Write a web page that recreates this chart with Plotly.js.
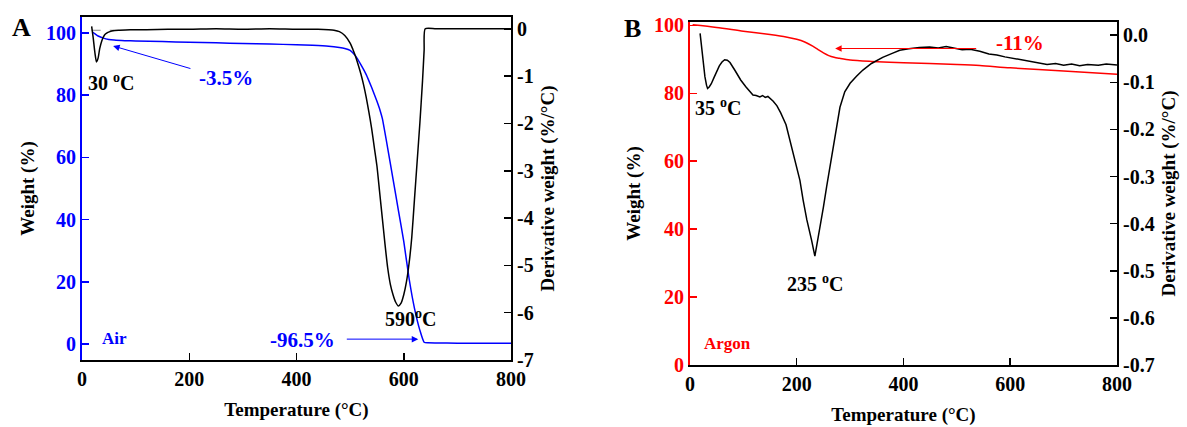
<!DOCTYPE html>
<html>
<head>
<meta charset="utf-8">
<script src="https://cdn.plot.ly/plotly-3.0.1.min.js"></script>
<style>html,body{margin:0;padding:0;background:#fff;}#chart{width:1187px;height:427px;}</style>
</head>
<body>
<div id="chart"></div>
<script>
// ---------- Panel A (Air) ----------
const tempA_weight = [20, 25, 30, 40, 50, 60, 80, 100, 150, 200, 250, 300, 350, 400, 430, 460, 480, 490, 500, 510, 520, 530, 540, 550, 556, 560, 570, 580, 590, 600, 610, 620, 630, 638, 645, 660, 700, 750, 800];
const weightA = [100.2, 99.6, 99.0, 98.3, 97.9, 97.7, 97.5, 97.4, 97.2, 97.0, 96.8, 96.6, 96.4, 96.2, 96.0, 95.7, 95.3, 95.0, 94.4, 92.6, 89.8, 86.6, 82.5, 78.0, 75.0, 72.5, 63.0, 53.0, 43.0, 33.0, 21.0, 11.5, 4.5, 0.6, 0.4, 0.35, 0.3, 0.3, 0.3];

const tempA_deriv = [18, 21, 24, 27, 30, 33, 37, 42, 46, 52, 58, 70, 90, 120, 160, 200, 250, 300, 350, 400, 440, 460, 470, 480, 490, 500, 505, 510, 515, 520, 525, 530, 535, 540, 545, 550, 555, 560, 565, 570, 575, 580, 585, 590, 595, 600, 605, 610, 615, 620, 625, 630, 635, 638, 640, 660, 700, 750, 800];
const derivA = [0.05, -0.2, -0.5, -0.7, -0.62, -0.42, -0.25, -0.13, -0.09, -0.06, -0.04, -0.03, -0.02, -0.02, -0.01, -0.01, 0.0, -0.01, 0.0, -0.01, -0.01, -0.02, -0.03, -0.06, -0.14, -0.3, -0.43, -0.58, -0.76, -0.95, -1.18, -1.45, -1.76, -2.1, -2.5, -2.9, -3.45, -4.0, -4.55, -5.05, -5.4, -5.62, -5.78, -5.86, -5.8, -5.62, -5.35, -4.95, -4.4, -3.6, -2.8, -2.0, -1.1, -0.45, 0.0, 0.0, 0.0, 0.0, 0.0];

const baseA_T = [18, 60];
const baseA_D = [-0.03, -0.03];

// ---------- Panel B (Argon) ----------
const tempB_weight = [5, 50, 100, 150, 180, 200, 215, 230, 240, 250, 260, 270, 280, 300, 340, 400, 500, 543, 600, 700, 800];
const weightB = [100.2, 99.4, 98.3, 97.3, 96.6, 95.9, 95.1, 93.9, 92.9, 91.9, 91.1, 90.6, 90.3, 89.8, 89.4, 89.0, 88.5, 88.2, 87.5, 86.6, 85.6];

const tempB_deriv = [19, 22, 25, 28, 31, 33, 36, 40, 45, 50, 55, 60, 65, 70, 75, 85, 95, 105, 112, 118, 124, 131, 136, 141, 146, 150, 156, 163, 170, 180, 187, 196, 206, 212, 219, 228, 234, 240, 246, 250, 256, 262, 270, 281, 290, 300, 312, 324, 340, 361, 380, 393, 410, 430, 449, 465, 480, 495, 510, 525, 543, 560, 575, 590, 605, 620, 640, 655, 669, 685, 700, 715, 730, 745, 765, 780, 800];
const derivB = [0.004, -0.03, -0.06, -0.088, -0.106, -0.113, -0.11, -0.103, -0.09, -0.077, -0.065, -0.057, -0.052, -0.053, -0.058, -0.076, -0.095, -0.11, -0.12, -0.127, -0.128, -0.131, -0.128, -0.132, -0.130, -0.134, -0.14, -0.15, -0.165, -0.19, -0.223, -0.265, -0.308, -0.35, -0.392, -0.436, -0.469, -0.43, -0.395, -0.365, -0.322, -0.28, -0.22, -0.153, -0.12, -0.102, -0.087, -0.074, -0.06, -0.047, -0.038, -0.032, -0.029, -0.026, -0.025, -0.027, -0.024, -0.028, -0.031, -0.03, -0.034, -0.04, -0.042, -0.046, -0.049, -0.052, -0.055, -0.058, -0.062, -0.06, -0.064, -0.061, -0.065, -0.062, -0.064, -0.061, -0.063];

// ---------- Tick labels ----------
const xTicks = [0, 200, 400, 600, 800];
const xTickText = ['0', '200', '400', '600', '800'];
const weightTicks = [0, 20, 40, 60, 80, 100];
const weightTickText = ['0', '20', '40', '60', '80', '100'];
const derivATicks = [0, -1, -2, -3, -4, -5, -6, -7];
const derivATickText = ['0', '-1', '-2', '-3', '-4', '-5', '-6', '-7'];
const derivBTicks = [0, -0.1, -0.2, -0.3, -0.4, -0.5, -0.6, -0.7];
const derivBTickText = ['0.0', '-0.1', '-0.2', '-0.3', '-0.4', '-0.5', '-0.6', '-0.7'];

const FONT = 'Liberation Serif, Times New Roman, serif';
const BLUE = '#0000ff', RED = '#ff0000', BLACK = '#000000';

function tf(color, size) { return {family: FONT, size: size || 20, color: color, weight: 'bold'}; }

const traces = [
  {x: baseA_T, y: baseA_D, xaxis: 'x', yaxis: 'y2', mode: 'lines', line: {color: '#888888', width: 1.2, dash: 'dash'}, showlegend: false, hoverinfo: 'skip'},
  {x: tempA_deriv, y: derivA, xaxis: 'x', yaxis: 'y2', mode: 'lines', line: {color: BLACK, width: 1.5, shape: 'spline', smoothing: 0.6}, showlegend: false, name: 'DTG Air'},
  {x: tempA_weight, y: weightA, xaxis: 'x', yaxis: 'y', mode: 'lines', line: {color: BLUE, width: 1.5, shape: 'spline', smoothing: 0.5}, showlegend: false, name: 'TG Air'},
  {x: tempB_deriv, y: derivB, xaxis: 'x2', yaxis: 'y4', mode: 'lines', line: {color: BLACK, width: 1.5}, showlegend: false, name: 'DTG Argon'},
  {x: tempB_weight, y: weightB, xaxis: 'x2', yaxis: 'y3', mode: 'lines', line: {color: RED, width: 1.5, shape: 'spline', smoothing: 0.8}, showlegend: false, name: 'TG Argon'}
];

const axCommon = {showgrid: false, zeroline: false, ticks: 'inside', ticklen: 7, tickwidth: 1.5, linewidth: 2, showline: true, automargin: false, fixedrange: true};

const layout = {
  width: 1187, height: 427,
  margin: {l: 82, r: 70, t: 17, b: 62},
  paper_bgcolor: '#ffffff', plot_bgcolor: 'rgba(0,0,0,0)',
  showlegend: false,
  xaxis: Object.assign({}, axCommon, {domain: [0, 0.4145], range: [0, 800], anchor: 'y', tickvals: xTicks, ticktext: xTickText, linecolor: BLACK, tickcolor: BLACK, mirror: true, tickfont: tf(BLACK), title: {text: 'Temperature (°C)', font: tf(BLACK, 19), standoff: 14}}),
  yaxis: Object.assign({}, axCommon, {domain: [0.0144, 1], range: [-5.1, 105.1], anchor: 'x', tickvals: weightTicks, ticktext: weightTickText, linecolor: BLUE, tickcolor: BLUE, tickfont: tf(BLUE), title: {text: 'Weight (%)', font: tf(BLACK, 19), standoff: 6}}),
  yaxis2: Object.assign({}, axCommon, {domain: [0.0144, 1], range: [-7, 0.25], anchor: 'x', overlaying: 'y', side: 'right', tickvals: derivATicks, ticktext: derivATickText, linecolor: BLACK, tickcolor: BLACK, tickfont: tf(BLACK), title: {text: 'Derivative weight (%/°C)', font: tf(BLACK, 19), standoff: 8}}),
  xaxis2: Object.assign({}, axCommon, {domain: [0.5874, 1], range: [0, 800], anchor: 'y3', tickvals: xTicks, ticktext: xTickText, linecolor: BLACK, tickcolor: BLACK, mirror: true, tickfont: tf(BLACK), title: {text: 'Temperature (°C)', font: tf(BLACK, 19), standoff: 14}}),
  yaxis3: Object.assign({}, axCommon, {domain: [0, 0.9856], range: [0, 101], anchor: 'x2', tickvals: weightTicks, ticktext: weightTickText, linecolor: RED, tickcolor: RED, tickfont: tf(RED), title: {text: 'Weight (%)', font: tf(BLACK, 19), standoff: 8}}),
  yaxis4: Object.assign({}, axCommon, {domain: [0, 0.9856], range: [-0.7, 0.028], anchor: 'x2', overlaying: 'y3', side: 'right', tickvals: derivBTicks, ticktext: derivBTickText, linecolor: BLACK, tickcolor: BLACK, tickfont: tf(BLACK), title: {text: 'Derivative weight (%/°C)', font: tf(BLACK, 19), standoff: 8}}),
  annotations: [
    {xref: 'paper', yref: 'paper', x: -0.058, y: 0.971, xanchor: 'center', yanchor: 'middle', text: '<b>A</b>', showarrow: false, font: tf(BLACK, 26)},
    {xref: 'x', yref: 'y', x: 54, y: 84.2, text: '<b>30 <sup>o</sup>C</b>', showarrow: false, font: tf(BLACK, 20)},
    {xref: 'x', yref: 'y', x: 269, y: 85.5, text: '<b>-3.5%</b>', showarrow: false, font: tf(BLUE, 21)},
    {xref: 'x', yref: 'y', x: 58, y: 95.8, axref: 'x', ayref: 'y', ax: 205, ay: 88.4, text: '', showarrow: true, arrowhead: 2, arrowsize: 1.3, arrowwidth: 1, arrowcolor: BLUE},
    {xref: 'x', yref: 'y', x: 612, y: 8.4, text: '<b>590<sup>o</sup>C</b>', showarrow: false, font: tf(BLACK, 20)},
    {xref: 'x', yref: 'y', x: 412, y: 1.3, text: '<b>-96.5%</b>', showarrow: false, font: tf(BLUE, 21)},
    {xref: 'x', yref: 'y', x: 627, y: 1.6, axref: 'x', ayref: 'y', ax: 491, ay: 1.6, text: '', showarrow: true, arrowhead: 2, arrowsize: 1.3, arrowwidth: 1, arrowcolor: BLUE},
    {xref: 'x', yref: 'y', x: 60, y: 1.9, text: '<b>Air</b>', showarrow: false, font: tf(BLUE, 17)},
    {xref: 'paper', yref: 'paper', x: 0.532, y: 0.966, xanchor: 'center', yanchor: 'middle', text: '<b>B</b>', showarrow: false, font: tf(BLACK, 26)},
    {xref: 'x2', yref: 'y3', x: 52, y: 75.9, text: '<b>35 <sup>o</sup>C</b>', showarrow: false, font: tf(BLACK, 20)},
    {xref: 'x2', yref: 'y3', x: 234, y: 24.1, text: '<b>235 <sup>o</sup>C</b>', showarrow: false, font: tf(BLACK, 20)},
    {xref: 'x2', yref: 'y3', x: 618, y: 94.7, text: '<b>-11%</b>', showarrow: false, font: tf(RED, 21)},
    {xref: 'x2', yref: 'y3', x: 272, y: 93.2, axref: 'x2', ayref: 'y3', ax: 539, ay: 93.2, text: '', showarrow: true, arrowhead: 2, arrowsize: 1.3, arrowwidth: 1, arrowcolor: RED},
    {xref: 'x2', yref: 'y3', x: 71, y: 6.2, text: '<b>Argon</b>', showarrow: false, font: tf(RED, 17)}
  ]
};

Plotly.newPlot('chart', traces, layout, {staticPlot: true, displayModeBar: false});
</script>
</body>
</html>
